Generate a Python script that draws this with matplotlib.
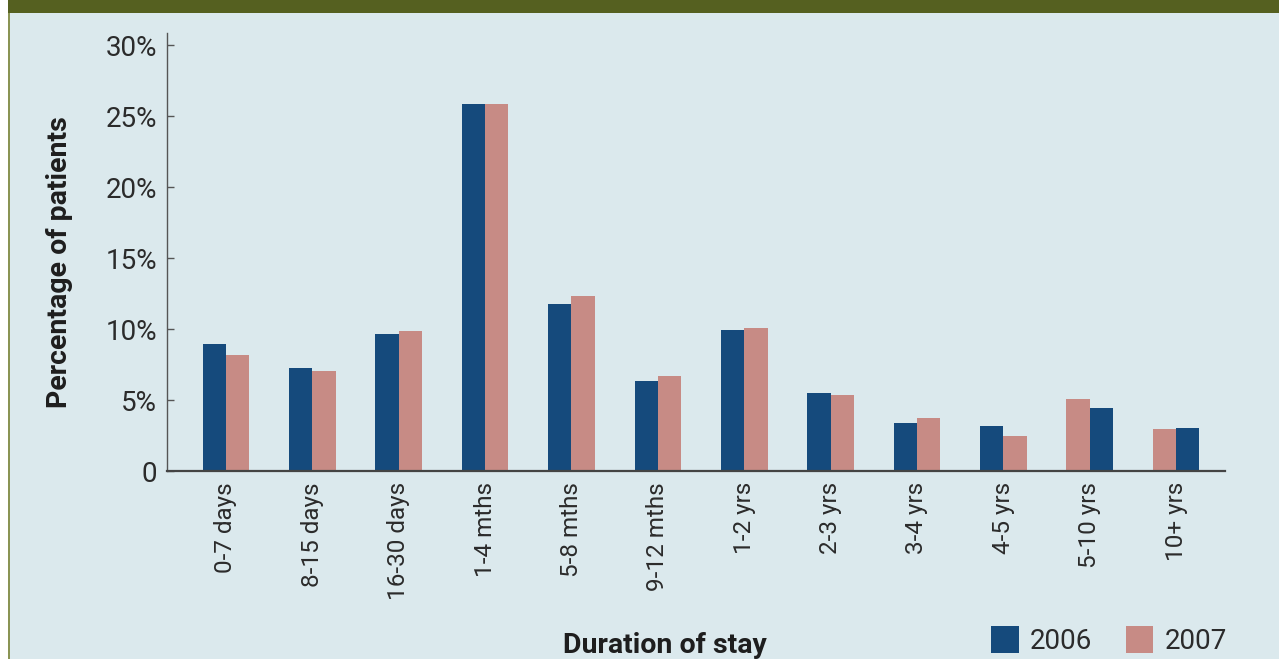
import numpy as np
import matplotlib
matplotlib.use('Agg')
import matplotlib.pyplot as plt
import matplotlib.font_manager as fm
from matplotlib.patches import Rectangle

categorias = ['0-7 days', '8-15 days', '16-30 days', '1-4 mths', '5-8 mths', '9-12 mths',
              '1-2 yrs', '2-3 yrs', '3-4 yrs', '4-5 yrs', '5-10 yrs', '10+ yrs']
valores2006 = [8.94, 7.25, 9.65, 25.85, 11.76, 6.34, 9.93, 5.49, 3.38, 3.17, 4.44, 3.03]
valores2007 = [8.17, 7.04, 9.86, 25.85, 12.32, 6.69, 10.07, 5.35, 3.73, 2.46, 5.07, 2.96]
# nos dois ultimos grupos a barra de 2007 vem primeiro
primeiro2006 = [True] * 10 + [False, False]
yticks = [0, 5, 10, 15, 20, 25, 30]
ytick_labels = ['0', '5%', '10%', '15%', '20%', '25%', '30%']

azul = '#154a7c'
rosa = '#c78b85'
fundo = '#dbe9ed'
oliva = '#556020'
texto = '#2b2b2b'

nomes = set(f.name for f in fm.fontManager.ttflist)
fonte = 'Liberation Sans Narrow' if 'Liberation Sans Narrow' in nomes else 'Roboto'
plt.rcParams['font.family'] = [fonte, 'DejaVu Sans']

fig = plt.figure(figsize=(12.79, 6.59), dpi=100)
fig.patch.set_facecolor(fundo)

# faixa branca a esquerda, linha oliva e faixa do titulo
fig.patches.append(Rectangle((0, 0), 8 / 1279, 1, transform=fig.transFigure,
                             facecolor='white', edgecolor='none', zorder=0))
fig.patches.append(Rectangle((8 / 1279, 0), 2 / 1279, 1, transform=fig.transFigure,
                             facecolor='#8a9454', edgecolor='none', zorder=0))
fig.patches.append(Rectangle((8 / 1279, 1 - 13 / 659), 1, 13 / 659, transform=fig.transFigure,
                             facecolor=oliva, edgecolor='none', zorder=0))

ax = fig.add_axes([167 / 1279, 1 - 471 / 659, (1225 - 167) / 1279, (471 - 33) / 659])
ax.set_facecolor(fundo)

x = np.arange(len(categorias))
largura = 0.27
desloc2006 = np.array([-largura / 2 if p else largura / 2 for p in primeiro2006])
ax.bar(x + desloc2006, valores2006, largura, color=azul, label='2006', zorder=2)
ax.bar(x - desloc2006, valores2007, largura, color=rosa, label='2007', zorder=2)

ax.set_xlim(-0.683, 11.567)
ax.set_ylim(0, 30.85)
ax.set_yticks(yticks)
ax.set_yticklabels(ytick_labels)
ax.set_xticks(x)
ax.set_xticklabels(categorias, rotation=90)

for lado in ['top', 'right']:
    ax.spines[lado].set_visible(False)
ax.spines['left'].set_color('#555555')
ax.spines['left'].set_linewidth(1.0)
ax.spines['bottom'].set_color('#444444')
ax.spines['bottom'].set_linewidth(1.6)
ax.spines['bottom'].set_zorder(3)

ax.tick_params(axis='y', direction='in', length=5, width=1, color='#555555',
               labelsize=20, labelcolor=texto, pad=7)
ax.tick_params(axis='x', length=0, labelsize=17.5, labelcolor=texto, pad=8)

fig.text(60 / 1279, 1 - 262 / 659, 'Percentage of patients', rotation=90,
         ha='center', va='center', fontsize=20.5, fontweight='bold', color='#1e1e1e')
fig.text(665 / 1279, 1 - 632 / 659, 'Duration of stay', ha='center', va='top',
         fontsize=20.5, fontweight='bold', color='#1e1e1e')

fig.legend(loc='upper left', bbox_to_anchor=(991 / 1279, 1 - 626 / 659), ncol=2,
           frameon=False, fontsize=20, handlelength=1.0, handleheight=1.1,
           handletextpad=0.4, columnspacing=1.2, borderpad=0, borderaxespad=0,
           labelcolor=texto)

fig.savefig('out.png', dpi=100, facecolor=fundo)
